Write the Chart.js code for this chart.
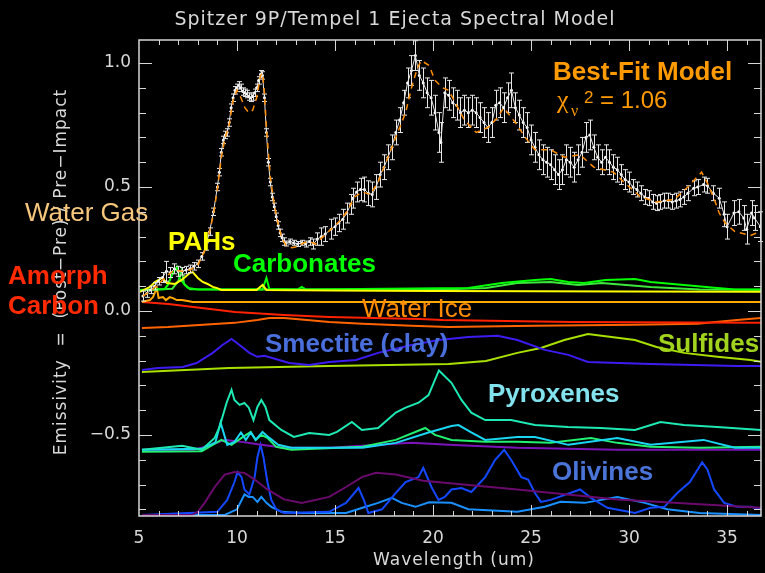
<!DOCTYPE html>
<html>
<head>
<meta charset="utf-8">
<title>Spitzer 9P/Tempel 1 Ejecta Spectral Model</title>
<script src="https://cdn.jsdelivr.net/npm/chart.js@4.4.1/dist/chart.umd.min.js"></script>
<style>
  html, body { margin: 0; padding: 0; background: #000; }
  canvas { display: block; }
</style>
</head>
<body>
<canvas id="grafico" width="765" height="573"></canvas>
<script>
// ---- axes ----
const xTicks = [5, 10, 15, 20, 25, 30, 35];
const yTicks = [-0.5, 0.0, 0.5, 1.0];

// ---- measured spectrum (post - pre) / pre ----
const specWave = [5.2, 5.4, 5.6, 5.8, 6.0, 6.2, 6.4, 6.6, 6.8, 7.0, 7.2, 7.4, 7.6, 7.8, 8.0, 8.2, 8.4, 8.6, 8.8, 9.0,
  9.1, 9.2, 9.3, 9.4, 9.5, 9.6, 9.7, 9.8, 9.9, 10.0, 10.1, 10.2, 10.3, 10.4, 10.5, 10.6, 10.7, 10.8, 10.9, 11.0,
  11.1, 11.2, 11.3, 11.4, 11.5, 11.6, 11.7, 11.8, 11.9, 12.0, 12.1, 12.2, 12.3, 12.4, 12.5, 12.7, 12.9, 13.1, 13.3, 13.5,
  13.7, 13.9, 14.1, 14.3, 14.5, 14.8, 15.0, 15.2, 15.4, 15.6, 15.8, 15.9, 16.1, 16.3, 16.5, 16.7, 16.9, 17.1, 17.3, 17.5,
  17.7, 17.9, 18.1, 18.3, 18.5, 18.7, 18.9, 19.1, 19.3, 19.5, 19.7, 19.9, 20.1, 20.3, 20.4, 20.6, 20.8, 21.0, 21.2, 21.4,
  21.6, 21.8, 22.0, 22.2, 22.4, 22.6, 22.8, 23.0, 23.2, 23.4, 23.6, 23.8, 24.0, 24.2, 24.4, 24.6, 24.8, 25.0, 25.2, 25.4,
  25.6, 25.8, 26.0, 26.2, 26.4, 26.6, 26.8, 27.0, 27.2, 27.4, 27.6, 27.8, 28.0, 28.2, 28.4, 28.6, 28.8, 29.0, 29.2, 29.4,
  29.6, 29.8, 30.0, 30.2, 30.4, 30.6, 30.8, 31.0, 31.2, 31.4, 31.6, 31.8, 32.0, 32.2, 32.4, 32.6, 32.8, 33.0, 33.3, 33.5,
  33.8, 34.0, 34.3, 34.6, 34.85, 35.0, 35.35, 35.6, 35.85, 36.0, 36.25, 36.4, 36.7];
const specFlux = [0.06, 0.07, 0.085, 0.10, 0.12, 0.135, 0.16, 0.155, 0.17, 0.16, 0.16, 0.165, 0.17, 0.18, 0.19, 0.22, 0.26, 0.32, 0.40, 0.50,
  0.56, 0.64, 0.69, 0.71, 0.72, 0.76, 0.82, 0.86, 0.89, 0.90, 0.91, 0.90, 0.885, 0.88, 0.875, 0.865, 0.86, 0.865, 0.88, 0.90,
  0.93, 0.955, 0.95, 0.86, 0.72, 0.60, 0.52, 0.46, 0.42, 0.38, 0.345, 0.315, 0.295, 0.28, 0.272, 0.28, 0.275, 0.27, 0.275, 0.27,
  0.28, 0.27, 0.29, 0.30, 0.31, 0.33, 0.34, 0.355, 0.37, 0.395, 0.43, 0.455, 0.48, 0.49, 0.49, 0.475, 0.47, 0.50, 0.55, 0.58,
  0.62, 0.66, 0.72, 0.77, 0.84, 0.92, 0.97, 1.03, 0.95, 0.92, 0.88, 0.86, 0.80, 0.72, 0.68, 0.88, 0.87, 0.84, 0.83, 0.80,
  0.81, 0.80, 0.81, 0.80, 0.78, 0.76, 0.74, 0.76, 0.83, 0.84, 0.82, 0.86, 0.89, 0.82, 0.79, 0.76, 0.74, 0.69, 0.66, 0.63,
  0.61, 0.60, 0.59, 0.57, 0.55, 0.57, 0.61, 0.60, 0.58, 0.61, 0.64, 0.70, 0.71, 0.66, 0.62, 0.60, 0.62, 0.60, 0.58, 0.57,
  0.55, 0.53, 0.52, 0.50, 0.49, 0.475, 0.46, 0.455, 0.44, 0.435, 0.44, 0.445, 0.445, 0.44, 0.445, 0.45, 0.46, 0.475, 0.495, 0.50,
  0.51, 0.505, 0.475, 0.455, 0.39, 0.34, 0.395, 0.40, 0.375, 0.33, 0.395, 0.375, 0.34];
const specErr = [0.02, 0.015, 0.015, 0.015, 0.015, 0.02, 0.04, 0.02, 0.02, 0.02, 0.015, 0.015, 0.015, 0.015, 0.015, 0.015, 0.015, 0.015, 0.015, 0.015,
  0.015, 0.015, 0.015, 0.015, 0.015, 0.015, 0.015, 0.015, 0.015, 0.015, 0.015, 0.015, 0.015, 0.015, 0.015, 0.015, 0.015, 0.015, 0.015, 0.015,
  0.015, 0.015, 0.015, 0.015, 0.015, 0.015, 0.015, 0.015, 0.015, 0.015, 0.015, 0.015, 0.015, 0.015, 0.01, 0.01, 0.01, 0.01, 0.01, 0.012,
  0.015, 0.02, 0.025, 0.035, 0.03, 0.04, 0.035, 0.035, 0.04, 0.04, 0.04, 0.04, 0.04, 0.045, 0.05, 0.05, 0.05, 0.05, 0.05, 0.05,
  0.05, 0.05, 0.05, 0.05, 0.05, 0.06, 0.06, 0.06, 0.06, 0.06, 0.06, 0.07, 0.07, 0.08, 0.08, 0.06, 0.06, 0.06, 0.06, 0.06,
  0.06, 0.06, 0.06, 0.06, 0.06, 0.06, 0.06, 0.06, 0.06, 0.06, 0.06, 0.06, 0.07, 0.06, 0.06, 0.06, 0.06, 0.06, 0.06, 0.06,
  0.06, 0.06, 0.06, 0.06, 0.06, 0.06, 0.06, 0.06, 0.06, 0.06, 0.06, 0.06, 0.06, 0.05, 0.05, 0.05, 0.05, 0.05, 0.05, 0.05,
  0.04, 0.04, 0.04, 0.03, 0.03, 0.03, 0.03, 0.03, 0.03, 0.03, 0.03, 0.03, 0.03, 0.03, 0.03, 0.03, 0.03, 0.03, 0.03, 0.03,
  0.03, 0.03, 0.03, 0.04, 0.05, 0.05, 0.05, 0.05, 0.05, 0.06, 0.05, 0.05, 0.06];

// ---- best-fit model ----
const modelWave = [5.2, 5.6, 6.0, 6.4, 6.8, 7.2, 7.6, 8.0, 8.4, 8.8, 9.0, 9.2, 9.4, 9.6, 9.8, 10.0, 10.2, 10.4, 10.6, 10.8,
  11.0, 11.2, 11.3, 11.4, 11.5, 11.7, 11.9, 12.1, 12.3, 12.5, 12.8, 13.1, 13.4, 13.7, 14.0, 14.4, 14.8, 15.2, 15.6, 16.0,
  16.4, 16.8, 17.2, 17.6, 18.0, 18.3, 18.6, 18.9, 19.2, 19.4, 19.8, 20.1, 20.5, 20.8, 21.2, 21.6, 22.2, 22.8, 23.3, 23.6,
  24.2, 24.7, 25.2, 26.0, 26.7, 27.5, 28.2, 29.2, 29.8, 30.6, 31.4, 32.3, 33.0, 33.7, 34.0, 34.3, 34.6, 34.9, 35.4, 36.2, 36.7];
const modelFlux = [0.06, 0.08, 0.11, 0.14, 0.165, 0.16, 0.165, 0.185, 0.25, 0.39, 0.49, 0.62, 0.70, 0.75, 0.85, 0.89, 0.86, 0.82, 0.80, 0.81,
  0.86, 0.95, 0.96, 0.88, 0.74, 0.54, 0.43, 0.35, 0.29, 0.265, 0.255, 0.26, 0.275, 0.28, 0.27, 0.30, 0.33, 0.36, 0.40, 0.46,
  0.48, 0.47, 0.52, 0.60, 0.68, 0.74, 0.80, 0.90, 0.98, 1.01, 0.99, 0.93, 0.90, 0.89, 0.83, 0.77, 0.72, 0.74, 0.78, 0.82,
  0.76, 0.70, 0.65, 0.65, 0.62, 0.63, 0.58, 0.56, 0.515, 0.46, 0.44, 0.45, 0.50, 0.56, 0.515, 0.46, 0.395, 0.355, 0.32, 0.305, 0.32];

// ---- model components (offset for display) ----
const pahWave = [5.05, 5.56, 5.81, 6.17, 6.42, 6.83, 7.18, 7.59, 7.74, 8.0, 8.25, 8.5, 8.76, 8.96, 9.2, 11.0, 11.3, 11.5, 15, 20, 25, 30, 36.8];
const pahFlux = [0.077, 0.097, 0.117, 0.133, 0.113, 0.109, 0.125, 0.153, 0.157, 0.133, 0.117, 0.109, 0.097, 0.093, 0.085, 0.085, 0.105, 0.085, 0.083, 0.081, 0.08, 0.079, 0.078];

const carbAWave = [5.05, 6.3, 6.47, 6.68, 6.93, 7.08, 7.33, 7.49, 8.0, 11.3, 11.5, 11.65, 13.1, 13.3, 13.5, 21.8, 23.5, 25.2, 26.0, 26.9, 27.7, 28.8, 30.3, 31.1, 32.8, 34.5, 35.4, 36.8];
const carbAFlux = [0.085, 0.088, 0.105, 0.145, 0.177, 0.133, 0.105, 0.093, 0.087, 0.087, 0.133, 0.089, 0.087, 0.097, 0.087, 0.093, 0.113, 0.125, 0.129, 0.117, 0.113, 0.125, 0.129, 0.117, 0.105, 0.093, 0.087, 0.087];
const carbBWave = [5.05, 6.7, 7.0, 7.18, 7.3, 7.6, 20.0, 22.7, 24.3, 26.0, 27.4, 28.6, 31.1, 33.6, 36.8];
const carbBFlux = [0.085, 0.09, 0.12, 0.165, 0.11, 0.088, 0.086, 0.093, 0.113, 0.117, 0.105, 0.113, 0.097, 0.087, 0.086];

const gasWave = [5.15, 5.56, 5.71, 5.91, 6.0, 6.22, 6.37, 6.57, 6.73, 6.93, 7.18, 7.49, 7.74, 20, 36.8];
const gasFlux = [0.036, 0.044, 0.056, 0.093, 0.052, 0.056, 0.044, 0.056, 0.052, 0.044, 0.044, 0.04, 0.036, 0.036, 0.036];

const carbonWave = [5.15, 6.5, 8.2, 9.9, 12.4, 14.7, 19.3, 20.5, 27.0, 36.8];
const carbonFlux = [0.036, 0.028, 0.012, -0.004, -0.016, -0.024, -0.032, -0.036, -0.044, -0.048];

const iceWave = [5.15, 6.47, 9.87, 11.04, 11.65, 12.4, 13.0, 14.7, 16.4, 18.9, 20.8, 25.2, 30.3, 33.5, 35.5, 36.8];
const iceFlux = [-0.069, -0.065, -0.048, -0.036, -0.028, -0.028, -0.032, -0.044, -0.052, -0.06, -0.065, -0.06, -0.056, -0.052, -0.036, -0.028];

const smectWave = [5.15, 5.96, 7.23, 7.94, 8.76, 9.26, 9.72, 10.13, 10.63, 11.04, 11.4, 11.8, 12.66, 13.68, 14.7, 16.07, 17.2, 18.9, 20.3, 21.8, 23.3, 24.3, 25.7, 26.9, 27.9, 31.1, 35.5, 36.8];
const smectFlux = [-0.238, -0.23, -0.226, -0.21, -0.169, -0.137, -0.113, -0.137, -0.169, -0.185, -0.181, -0.19, -0.21, -0.218, -0.206, -0.198, -0.169, -0.137, -0.117, -0.105, -0.10, -0.117, -0.157, -0.177, -0.206, -0.214, -0.222, -0.222];

const sulfWave = [5.15, 9.6, 14.7, 20.8, 22.7, 24.3, 25.5, 26.7, 27.9, 29.1, 30.3, 31.4, 32.8, 34.5, 36.2, 36.8];
const sulfFlux = [-0.246, -0.23, -0.222, -0.214, -0.202, -0.169, -0.149, -0.117, -0.093, -0.105, -0.117, -0.145, -0.169, -0.185, -0.198, -0.206];

const pyrAWave = [5.15, 7.2, 8.2, 8.86, 9.1, 9.47, 9.72, 9.87, 10.13, 10.38, 10.6, 10.84, 11.04, 11.24, 11.45, 11.65, 12.26, 12.9, 13.68, 14.7,
  15.1, 15.86, 16.37, 17.2, 18.1, 18.6, 19.26, 19.77, 20.3, 20.94, 21.45, 21.95, 22.66, 23.98, 25.2, 26.88, 28.55, 30.3, 31.6, 32.8, 34.5, 36.8];
const pyrAFlux = [-0.56, -0.544, -0.56, -0.512, -0.47, -0.37, -0.318, -0.359, -0.379, -0.371, -0.39, -0.44, -0.387, -0.359, -0.387, -0.44, -0.48, -0.508, -0.492, -0.50,
  -0.488, -0.448, -0.48, -0.472, -0.41, -0.39, -0.37, -0.339, -0.24, -0.29, -0.359, -0.41, -0.44, -0.44, -0.46, -0.468, -0.472, -0.48, -0.448, -0.46, -0.468, -0.48];

const pyrBWave = [5.15, 8.2, 8.9, 9.16, 9.5, 9.87, 10.2, 10.45, 10.7, 10.95, 11.3, 11.65, 12.1, 12.77, 16.4, 18.1, 19.77, 20.94, 21.3, 21.95, 22.66, 24.3, 25.2, 26.9, 29.4, 31.1, 33.8, 35.4, 36.8];
const pyrBFlux = [-0.56, -0.556, -0.53, -0.45, -0.54, -0.528, -0.49, -0.52, -0.49, -0.52, -0.488, -0.512, -0.54, -0.552, -0.552, -0.532, -0.49, -0.464, -0.46, -0.49, -0.52, -0.508, -0.508, -0.54, -0.512, -0.54, -0.52, -0.552, -0.552];

const pyrCWave = [5.15, 8.2, 9.2, 9.72, 10.23, 10.7, 10.95, 11.24, 11.55, 12.0, 12.77, 16.4, 18.1, 19.6, 20.1, 20.94, 22.66, 24.3, 26.0, 28.05, 29.4, 31.1, 33.6, 36.8];
const pyrCFlux = [-0.568, -0.566, -0.52, -0.54, -0.512, -0.488, -0.52, -0.5, -0.512, -0.548, -0.56, -0.548, -0.52, -0.472, -0.5, -0.52, -0.528, -0.528, -0.532, -0.512, -0.532, -0.548, -0.552, -0.548];

const pyrAmWave = [5.15, 7.8, 8.7, 9.37, 10.23, 11.24, 12.4, 14.7, 17.2, 18.9, 20.8, 24.3, 29.4, 36.8];
const pyrAmFlux = [-0.56, -0.56, -0.54, -0.52, -0.528, -0.54, -0.552, -0.552, -0.54, -0.532, -0.54, -0.552, -0.56, -0.56];

const olAmWave = [5.15, 7.7, 8.0, 8.35, 8.86, 9.37, 9.87, 10.38, 10.9, 11.55, 12.4, 13.3, 14.7, 15.56, 16.37, 17.08, 18.1, 19.5, 24.3, 29.4, 36.8];
const olAmFlux = [-0.823, -0.823, -0.81, -0.774, -0.71, -0.66, -0.65, -0.653, -0.68, -0.72, -0.76, -0.774, -0.75, -0.71, -0.67, -0.653, -0.66, -0.685, -0.72, -0.76, -0.794];

const olAWave = [5.15, 9.0, 9.5, 9.87, 10.03, 10.23, 10.38, 10.63, 10.9, 11.04, 11.2, 11.35, 11.55, 11.75, 12.0, 12.4, 14.7, 15.56, 16.2, 16.47, 16.7,
  17.4, 18.1, 18.6, 19.26, 19.5, 19.92, 20.28, 20.6, 20.94, 21.45, 21.95, 22.66, 23.17, 23.63, 23.98, 24.5, 24.85, 25.2, 25.5, 26.0,
  26.73, 27.5, 28.05, 28.9, 30.3, 31.1, 31.8, 32.46, 33.1, 33.73, 34.0, 34.34, 34.85, 35.5, 36.2, 36.8];
const olAFlux = [-0.823, -0.81, -0.762, -0.69, -0.65, -0.67, -0.72, -0.74, -0.67, -0.59, -0.54, -0.59, -0.69, -0.762, -0.80, -0.815, -0.81, -0.774, -0.714, -0.762, -0.815,
  -0.80, -0.734, -0.69, -0.67, -0.633, -0.71, -0.762, -0.75, -0.72, -0.714, -0.73, -0.67, -0.60, -0.56, -0.60, -0.67, -0.68, -0.734, -0.77, -0.762,
  -0.742, -0.72, -0.754, -0.794, -0.815, -0.794, -0.79, -0.734, -0.69, -0.61, -0.64, -0.72, -0.774, -0.79, -0.79, -0.80];

const olBWave = [5.15, 9.37, 10.0, 10.38, 10.6, 10.8, 11.04, 11.24, 11.5, 11.75, 12.26, 13.3, 15.56, 16.4, 17.2, 17.9, 18.4, 19.1, 19.8, 20.94, 21.8, 24.3, 25.7, 26.5, 27.74, 29.4, 30.8, 31.95, 33.6, 36.8];
const olBFlux = [-0.823, -0.823, -0.80, -0.74, -0.75, -0.75, -0.77, -0.75, -0.774, -0.79, -0.81, -0.815, -0.815, -0.794, -0.774, -0.754, -0.774, -0.79, -0.772, -0.774, -0.80, -0.81, -0.79, -0.77, -0.774, -0.75, -0.774, -0.80, -0.815, -0.823];

const pts = (xs, ys) => xs.map((w, i) => ({ x: w, y: ys[i] }));

const comp = (xs, ys, color) => ({
    data: pts(xs, ys), borderColor: color, borderWidth: 2, pointRadius: 0, tension: 0, fill: false
});

// error bars for the measured spectrum
const errorBars = {
    id: "errorBars",
    afterDatasetDraw(chart, args) {
        if (args.index !== 1) return;
        const { ctx, scales: { x, y } } = chart;
        ctx.save();
        ctx.strokeStyle = "#e6e6e6";
        ctx.lineWidth = 1;
        specWave.forEach((w, i) => {
            const px = Math.round(x.getPixelForValue(w)) + 0.5;
            const top = y.getPixelForValue(specFlux[i] + specErr[i]);
            const bot = y.getPixelForValue(specFlux[i] - specErr[i]);
            ctx.beginPath();
            ctx.moveTo(px, top); ctx.lineTo(px, bot);
            ctx.moveTo(px - 2.5, top); ctx.lineTo(px + 2.5, top);
            ctx.moveTo(px - 2.5, bot); ctx.lineTo(px + 2.5, bot);
            ctx.stroke();
        });
        ctx.restore();
    }
};

// box, inward ticks, titles and component names
const decor = {
    id: "decor",
    afterDraw(chart) {
        const { ctx, chartArea: a, scales: { x, y } } = chart;
        ctx.save();
        ctx.strokeStyle = "#d6d6d6";
        ctx.lineWidth = 1.5;
        ctx.strokeRect(a.left, a.top, a.right - a.left, a.bottom - a.top);
        ctx.lineWidth = 1;
        ctx.beginPath();
        for (let w = 6; w <= 36; w++) {
            const px = Math.round(x.getPixelForValue(w)) + 0.5;
            const len = w % 5 === 0 ? 11 : 5;
            ctx.moveTo(px, a.bottom); ctx.lineTo(px, a.bottom - len);
            ctx.moveTo(px, a.top); ctx.lineTo(px, a.top + len);
        }
        for (let k = -8; k <= 10; k++) {
            const py = Math.round(y.getPixelForValue(k / 10)) + 0.5;
            const len = k % 5 === 0 ? 13 : 7;
            ctx.moveTo(a.left, py); ctx.lineTo(a.left + len, py);
            ctx.moveTo(a.right, py); ctx.lineTo(a.right - len, py);
        }
        ctx.stroke();

        // plot title and axis titles
        ctx.fillStyle = "#d8d8d8";
        ctx.textAlign = "center";
        ctx.textBaseline = "middle";
        ctx.letterSpacing = "1px";
        ctx.font = "19px 'DejaVu Sans'";
        ctx.fillText("Spitzer 9P/Tempel 1 Ejecta Spectral Model", 395, 20);
        ctx.font = "17px 'DejaVu Sans'";
        ctx.fillText("Wavelength (um)", 454, 561);
        ctx.save();
        ctx.translate(62, 272);
        ctx.rotate(-Math.PI / 2);
        ctx.fillText("Emissivity  =  (Post\u2212Pre) / Pre\u2212Impact", 0, 0);
        ctx.restore();
        ctx.letterSpacing = "0px";

        // component names
        const bold = "bold 26px 'Liberation Sans'";
        const plain = "26px 'Liberation Sans'";
        const names = [
            ["Water Gas", 25, 221, "#f6c67c", plain],
            ["Amorph", 8, 284, "#ff2a00", bold],
            ["Carbon", 8, 314, "#ff2a00", bold],
            ["PAHs", 168, 250, "#ffff00", bold],
            ["Carbonates", 233, 272, "#00ff00", bold],
            ["Water Ice", 362, 317, "#ff8c00", plain],
            ["Smectite (clay)", 265, 352, "#4a6fdc", bold],
            ["Sulfides", 658, 352, "#a0d21e", bold],
            ["Pyroxenes", 488, 402, "#82e2ee", bold],
            ["Olivines", 552, 480, "#4a74d8", bold],
            ["Best-Fit Model", 553, 80, "#ff9a00", bold]
        ];
        ctx.textAlign = "left";
        ctx.textBaseline = "alphabetic";
        names.forEach(([t, px, py, c, f]) => {
            ctx.fillStyle = c;
            ctx.font = f;
            ctx.fillText(t, px, py);
        });

        // reduced chi-square of the fit
        ctx.fillStyle = "#ff9a00";
        ctx.font = "26px 'Liberation Serif'";
        ctx.fillText("\u03c7", 557, 108);
        ctx.font = "16px 'Liberation Serif'";
        ctx.fillText("\u03bd", 571, 116);
        ctx.font = "17px 'Liberation Sans'";
        ctx.fillText("2", 584, 103);
        ctx.font = "24px 'Liberation Sans'";
        ctx.fillText("= 1.06", 600, 108);
        ctx.restore();
    }
};

new Chart(document.getElementById("grafico"), {
    type: "line",
    data: {
        datasets: [
            { data: pts(modelWave, modelFlux), borderColor: "#ff8c00", borderWidth: 1.5, borderDash: [6, 5], pointRadius: 0, tension: 0, fill: false },
            { data: pts(specWave, specFlux), borderColor: "#e8e8e8", borderWidth: 1, pointRadius: 1.5, pointBackgroundColor: "#ffffff", pointBorderWidth: 0, tension: 0, fill: false },
            comp(pahWave, pahFlux, "#ffff00"),
            comp(carbAWave, carbAFlux, "#00ff00"),
            comp(carbBWave, carbBFlux, "#3ce83c"),
            comp(gasWave, gasFlux, "#ffa800"),
            comp(carbonWave, carbonFlux, "#ff2200"),
            comp(iceWave, iceFlux, "#ff6400"),
            comp(smectWave, smectFlux, "#3c1cf0"),
            comp(sulfWave, sulfFlux, "#a8e000"),
            comp(pyrAWave, pyrAFlux, "#1ee8b4"),
            comp(pyrBWave, pyrBFlux, "#1ad6f2"),
            comp(pyrCWave, pyrCFlux, "#22f070"),
            comp(pyrAmWave, pyrAmFlux, "#7a14b8"),
            comp(olAmWave, olAmFlux, "#6a0a6c"),
            comp(olAWave, olAFlux, "#1448ff"),
            comp(olBWave, olBFlux, "#1a90ff")
        ]
    },
    options: {
        responsive: false,
        animation: false,
        devicePixelRatio: 1,
        layout: { padding: { top: 40, right: 1, left: 0, bottom: 0 } },
        plugins: { legend: { display: false }, tooltip: { enabled: false } },
        scales: {
            x: {
                type: "linear", min: 5, max: 36.73,
                grid: { display: false, drawTicks: false },
                border: { display: false },
                afterBuildTicks: s => { s.ticks = xTicks.map(v => ({ value: v })); },
                afterFit: s => { s.height = 57; },
                ticks: { color: "#d8d8d8", padding: 12, maxRotation: 0, font: { family: "DejaVu Sans", size: 17 } }
            },
            y: {
                min: -0.827, max: 1.093,
                grid: { display: false, drawTicks: false },
                border: { display: false },
                afterBuildTicks: s => { s.ticks = yTicks.map(v => ({ value: v })); },
                afterFit: s => { s.width = 139; },
                ticks: {
                    color: "#d8d8d8", padding: 8, font: { family: "DejaVu Sans", size: 17 },
                    callback: v => v.toFixed(1).replace("-", "\u2212")
                }
            }
        }
    },
    plugins: [errorBars, decor]
});
</script>
</body>
</html>
